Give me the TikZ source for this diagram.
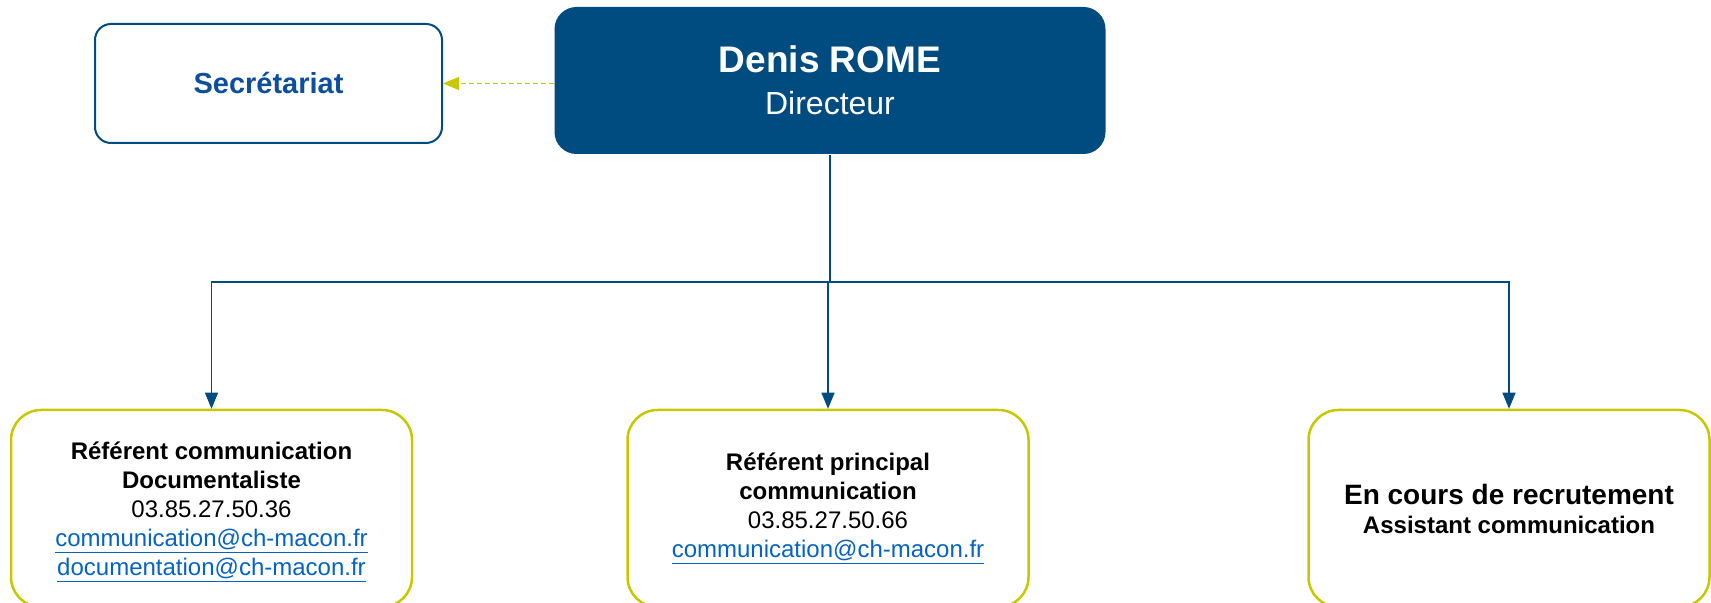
\documentclass[tikz,border=0pt]{standalone}
\usepackage{fontspec}
\setmainfont{Liberation Sans}
\usetikzlibrary{arrows.meta,positioning}
\definecolor{bleuch}{HTML}{004C80}
\definecolor{bleutxt}{HTML}{0D4E9E}
\definecolor{jaune}{HTML}{C8C800}
\definecolor{lien}{HTML}{0563C1}
\newcommand{\mail}[1]{\textcolor{lien}{\underline{#1}}}

\begin{document}
\begin{tikzpicture}[x=0.5pt,y=-0.5pt,>={Triangle[length=8pt,width=6.5pt]},semithick]
  \tikzstyle{boss}=[rectangle,rounded corners=11pt,fill=bleuch,text=white,minimum width=275.5pt,minimum height=73.5pt,align=center,inner sep=0pt,font=\fontsize{16}{20.75}\selectfont]
  \tikzstyle{secr}=[rectangle,rounded corners=8pt,draw=bleuch,line width=1pt,minimum width=173.5pt,minimum height=59.5pt,text=bleutxt,font=\fontsize{14.5}{17}\selectfont\bfseries]
  \tikzstyle{poste}=[rectangle,rounded corners=15pt,draw=jaune,line width=1.25pt,minimum width=200.5pt,minimum height=98.5pt,align=center,inner sep=0pt,font=\fontsize{12}{14.5}\selectfont]

  \useasboundingbox (0,0) rectangle (1711,603);
  \clip (0,0) rectangle (1711,603);

  \node[boss]   (Dir)  at (830,80.5)    {{\fontsize{18.5}{20.75}\selectfont\bfseries Denis ROME}\\ Directeur};
  \node[secr]   (Sec)  at (268.5,83.5)  {Secrétariat};
  \node[poste]  (Ref)  at (211.5,508.5) {\rule{0pt}{12.5pt}\textbf{Référent communication}\\ \textbf{Documentaliste}\\ 03.85.27.50.36\\ \mail{communication@ch-macon.fr}\\ \mail{documentation@ch-macon.fr}};
  \node[poste]  (Prin) at (828,508.5)   {\textbf{Référent principal}\\ \textbf{communication}\\ 03.85.27.50.66\\ \mail{communication@ch-macon.fr}};
  \node[poste]  (Recr) at (1509,508.5)  {{\fontsize{14}{15}\selectfont\bfseries En cours de recrutement}\\ \textbf{Assistant communication}};

  \coordinate (bus) at (829,282);
  \foreach \n in {Ref,Prin,Recr}
    \draw[->,bleuch] (Dir.south) -- (Dir.south |- bus) -| (\n.north);

  \draw[->,jaune,dashed,dash pattern=on 2.5pt off 1.5pt] (Dir.west |- Sec.east) -- (Sec.east);
\end{tikzpicture}
\end{document}
